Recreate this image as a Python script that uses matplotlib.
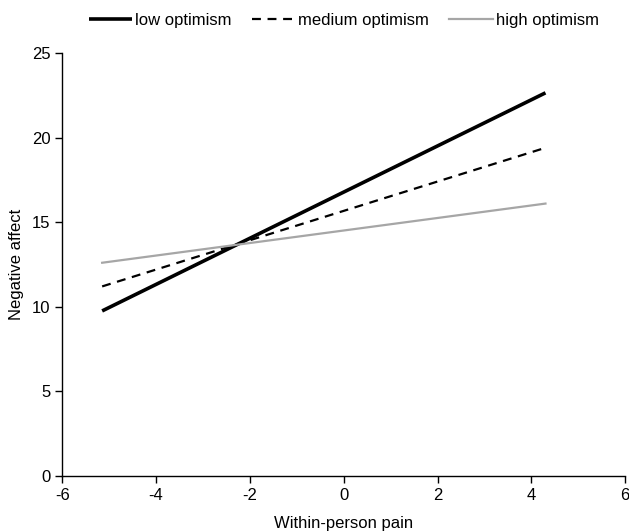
import matplotlib
matplotlib.use("Agg")
import matplotlib.pyplot as plt

plt.rcParams["font.family"] = ["Liberation Sans", "DejaVu Sans"]
plt.rcParams["axes.unicode_minus"] = False

# x range of the simple slopes (within-person pain)
pain = [-5.15, 4.3]
low_opt = [9.75, 22.65]
med_opt = [11.2, 19.4]
high_opt = [12.6, 16.1]

series_names = ["low optimism", "medium optimism", "high optimism"]

fig = plt.figure(figsize=(6.29, 5.31), dpi=100)
ax = fig.add_axes([0.099, 0.104, 0.895, 0.796])

ax.plot(pain, low_opt, color="black", lw=2.6, label=series_names[0], solid_capstyle="butt")
ax.plot(pain, med_opt, color="black", lw=1.6, ls=(0, (4, 3)), label=series_names[1])
ax.plot(pain, high_opt, color="#a6a6a6", lw=1.6, label=series_names[2])

ax.set_xlim(-6, 6)
ax.set_ylim(0, 25)
ax.set_xticks(range(-6, 7, 2))
ax.set_yticks(range(0, 26, 5))
for s in ["top", "right"]:
    ax.spines[s].set_visible(False)
for s in ["left", "bottom"]:
    ax.spines[s].set_linewidth(1.0)
ax.tick_params(direction="out", length=5, width=1.0, labelsize=12, colors="black")

ax.set_xlabel("Within-person pain", fontsize=12, labelpad=10)
ax.set_ylabel("Negative affect", fontsize=12, labelpad=6)

ax.legend(loc="center", bbox_to_anchor=(0.5, 1.078), ncol=3, frameon=False,
          fontsize=12, handlelength=2.6, handletextpad=0.2, columnspacing=1.2,
          borderaxespad=0)

fig.savefig("out.png", dpi=100)
